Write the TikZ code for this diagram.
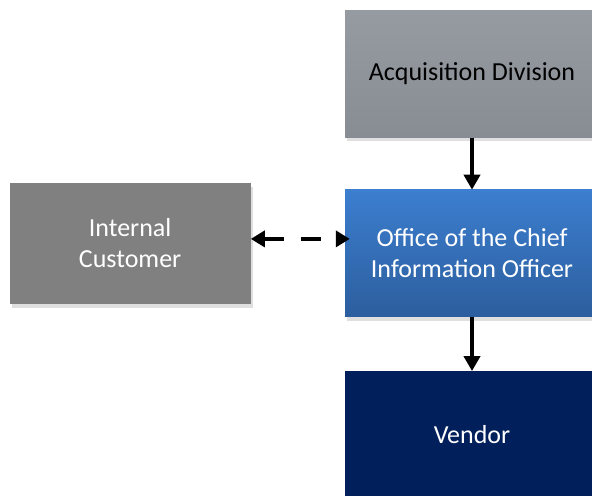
\documentclass[tikz,border=0pt]{standalone}
\usepackage{fontspec}
\setmainfont{Carlito}
\usetikzlibrary{arrows.meta, positioning, shadows}

\definecolor{acqtop}{HTML}{969BA2}
\definecolor{acqbot}{HTML}{888D94}
\definecolor{ciotop}{HTML}{3C7ECF}
\definecolor{ciobot}{HTML}{2C5E9E}
\definecolor{vendorblue}{HTML}{001F5B}
\definecolor{custgray}{HTML}{808080}

\begin{document}
\begin{tikzpicture}[x=1bp, y=1bp,
                font=\fontsize{26bp}{31bp}\selectfont,
                unit box/.style={minimum width=254bp, minimum height=127bp, inner sep=0pt, align=center,
                                 drop shadow={shadow xshift=2bp, shadow yshift=-4bp, opacity=0.25}},
                link/.style={line width=4bp, -{Triangle[width=16bp, length=15bp]}}]

                % canvas
                \useasboundingbox (0,0) rectangle (592,496);
                \clip (0,0) rectangle (592,496);

                % Chain of units on the right
                \node[unit box, top color=acqtop, bottom color=acqbot, text=black] (acq) at (472,422)
                    {Acquisition Division};
                \node[unit box, top color=ciotop, bottom color=ciobot, text=white, below=52bp of acq] (cio)
                    {Office of the Chief\\Information Officer};
                \node[unit box, fill=vendorblue, text=white, below=54bp of cio] (vendor) {Vendor};

                % Customer on the left
                \node[unit box, minimum width=241bp, minimum height=121bp, fill=custgray, text=white,
                      left=94bp of cio, yshift=10bp] (cust) {Internal\\Customer};

                % Flow arrows
                \draw[link] (acq) -- (cio);
                \draw[link] (cio) -- (vendor);

                % Two-way exchange with the customer
                \draw[line width=4bp, dash pattern=on 20bp off 17bp, shorten >=-5bp,
                      {Triangle[width=16bp, length=14bp]}-{Triangle[width=16bp, length=14bp]}]
                    ([yshift=4.5bp]cust.east) -- ([yshift=4.5bp]cust.east -| cio.west);
\end{tikzpicture}
\end{document}
